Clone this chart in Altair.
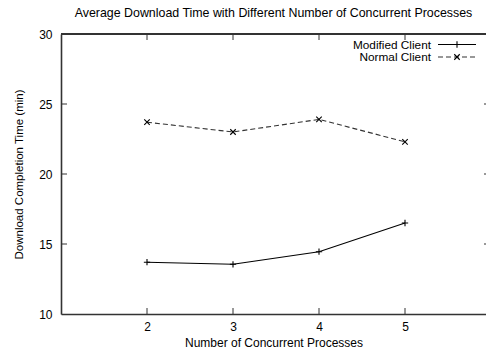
import altair as alt
import pandas as pd

# ---- data ----
processes = [2, 3, 4, 5]
modified_client = [13.7, 13.55, 14.45, 16.5]
normal_client = [23.7, 23.0, 23.9, 22.3]
series_names = ["Modified Client", "Normal Client"]
x_ticks = [2, 3, 4, 5]
y_ticks = [10, 15, 20, 25, 30]
y_inner_ticks = [15, 20, 25]

title = "Average Download Time with Different Number of Concurrent Processes"
x_title = "Number of Concurrent Processes"
y_title = "Download Completion Time (min)"

FONT = "Liberation Sans"
W, H = 425, 280
X_DOMAIN = [1, 1 + W / 86.0]
Y_DOMAIN = [10, 30]

df_mod = pd.DataFrame({"x": processes, "y": modified_client})
df_norm = pd.DataFrame({"x": processes, "y": normal_client})
df_xt = pd.DataFrame({"t": x_ticks})
df_yt = pd.DataFrame({"t": y_inner_ticks})

xs = alt.Scale(domain=X_DOMAIN, nice=False, zero=False)
ys = alt.Scale(domain=Y_DOMAIN, nice=False, zero=False)

PLUS = "M-1,0H1M0,-1V1"
CROSS = "M-1,-1L1,1M-1,1L1,-1"

x_enc = alt.X("x:Q", scale=xs, title=x_title,
              axis=alt.Axis(values=x_ticks, format="d", ticks=False, grid=False,
                            labelPadding=7, titlePadding=5, domainColor="#333",
                            domainWidth=1.6, labelFontSize=12, titleFontSize=12,
                            labelColor="#000", titleColor="#000", labelFont=FONT,
                            titleFont=FONT, titleFontWeight="normal"))
y_enc = alt.Y("y:Q", scale=ys, title=y_title,
              axis=alt.Axis(values=y_ticks, format="d", ticks=False, grid=False,
                            labelPadding=9, titlePadding=14, domainColor="#333",
                            domainWidth=1.6, labelFontSize=12, titleFontSize=11.5,
                            labelColor="#000", titleColor="#000", labelFont=FONT,
                            titleFont=FONT, titleFontWeight="normal"))

mod_line = alt.Chart(df_mod).mark_line(color="#000", strokeWidth=1.1).encode(x=x_enc, y=y_enc)
mod_pts = alt.Chart(df_mod).mark_point(shape=PLUS, size=40, color="#000", strokeWidth=1.1,
                                        filled=False, opacity=1).encode(x=alt.X("x:Q", scale=xs),
                                                                        y=alt.Y("y:Q", scale=ys))
norm_line = alt.Chart(df_norm).mark_line(color="#333", strokeWidth=1.1,
                                         strokeDash=[5, 3]).encode(x=alt.X("x:Q", scale=xs),
                                                                   y=alt.Y("y:Q", scale=ys))
norm_pts = alt.Chart(df_norm).mark_point(shape=CROSS, size=30, color="#000", strokeWidth=1.1,
                                          filled=False, opacity=1).encode(x=alt.X("x:Q", scale=xs),
                                                                          y=alt.Y("y:Q", scale=ys))

# border top and inward ticks
top_border = alt.Chart(df_xt).mark_rule(color="#333", strokeWidth=1.6).encode(
    x=alt.value(0), x2=alt.value(W), y=alt.value(0))
xt_bottom = alt.Chart(df_xt).mark_rule(color="#333", strokeWidth=1).encode(
    x=alt.X("t:Q", scale=xs), y=alt.value(H), y2=alt.value(H - 6))
xt_top = alt.Chart(df_xt).mark_rule(color="#333", strokeWidth=1).encode(
    x=alt.X("t:Q", scale=xs), y=alt.value(0), y2=alt.value(6))
yt_left = alt.Chart(df_yt).mark_rule(color="#333", strokeWidth=1).encode(
    y=alt.Y("t:Q", scale=ys), x=alt.value(0), x2=alt.value(6))
yt_right = alt.Chart(df_yt).mark_rule(color="#333", strokeWidth=1).encode(
    y=alt.Y("t:Q", scale=ys), x=alt.value(W - 2), x2=alt.value(W))

# manual gnuplot-style legend
df_leg1 = pd.DataFrame({"name": [series_names[0]]})
df_leg2 = pd.DataFrame({"name": [series_names[1]]})
LX_TEXT, LX0, LX1, LXM = 370, 377, 415, 396
LY1, LY2 = 10.5, 23
leg_t1 = alt.Chart(df_leg1).mark_text(align="right", baseline="middle", font=FONT,
                                       fontSize=11.8, color="#000").encode(
    text="name:N", x=alt.value(LX_TEXT), y=alt.value(LY1))
leg_t2 = alt.Chart(df_leg2).mark_text(align="right", baseline="middle", font=FONT,
                                       fontSize=11.8, color="#000").encode(
    text="name:N", x=alt.value(LX_TEXT), y=alt.value(LY2))
leg_l1 = alt.Chart(df_leg1).mark_rule(color="#000", strokeWidth=1.1).encode(
    x=alt.value(LX0), x2=alt.value(LX1), y=alt.value(LY1))
leg_l2 = alt.Chart(df_leg2).mark_rule(color="#333", strokeWidth=1.1, strokeDash=[5, 3]).encode(
    x=alt.value(LX0), x2=alt.value(LX1), y=alt.value(LY2))
leg_p1 = alt.Chart(df_leg1).mark_point(shape=PLUS, size=40, color="#000", strokeWidth=1.1,
                                        filled=False, opacity=1).encode(
    x=alt.value(LXM), y=alt.value(LY1))
leg_p2 = alt.Chart(df_leg2).mark_point(shape=CROSS, size=30, color="#000", strokeWidth=1.1,
                                        filled=False, opacity=1).encode(
    x=alt.value(LXM), y=alt.value(LY2))

chart = alt.layer(
    mod_line, norm_line, mod_pts, norm_pts,
    top_border, xt_bottom, xt_top, yt_left, yt_right,
    leg_t1, leg_t2, leg_l1, leg_l2, leg_p1, leg_p2,
).properties(
    width=W, height=H,
    title=alt.TitleParams(title, font=FONT, fontSize=12.4, fontWeight="normal",
                          color="#000", anchor="middle", offset=9),
    autosize=alt.AutoSizeParams(type="none"),
    padding={"left": 61, "top": 34, "right": 0, "bottom": 36},
).configure_view(stroke=None).configure(background="white")

chart.save("out.html", embed_options={"renderer": "svg", "actions": False})
